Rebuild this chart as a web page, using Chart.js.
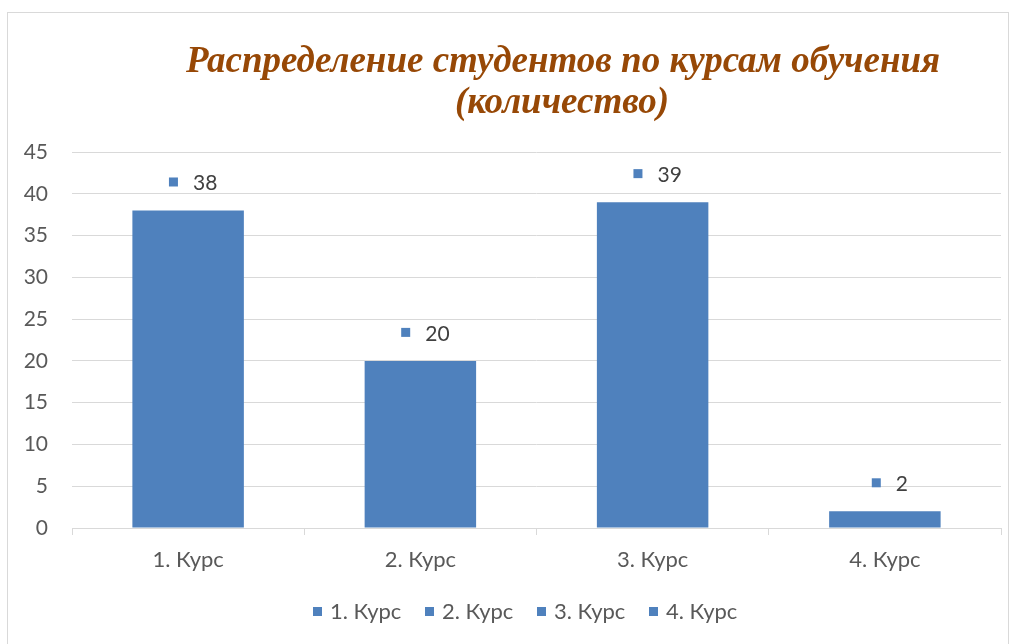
<!DOCTYPE html>
<html>
<head>
<meta charset="utf-8">
<script src="https://cdn.jsdelivr.net/npm/chart.js@4/dist/chart.umd.min.js"></script>
<style>
  html, body { margin: 0; padding: 0; background: #fff; }
  #wrap { width: 1018px; height: 644px; position: relative; }
</style>
</head>
<body>
<div id="wrap"><canvas id="chart" width="1018" height="644"></canvas></div>
<script>
// data
const categories = ['1. Курс', '2. Курс', '3. Курс', '4. Курс'];
const students = [38, 20, 39, 2];
const yMax = 45;
const yStep = 5;
const titleLines = ['Распределение студентов по курсам обучения', '(количество)'];

const barColor = '#4F81BD';
const gridColor = '#d9d9d9';
const textColor = '#595959';

// frame + title, drawn by hand so the title can sit off-centre like the original
const frameAndTitle = {
    id: 'frameAndTitle',
    beforeDraw(chart) {
        const c = chart.ctx;
        c.save();
        c.strokeStyle = gridColor;
        c.lineWidth = 1;
        c.strokeRect(7.5, 12.5, 1001, 700);
        c.restore();
    },
    afterDraw(chart) {
        const c = chart.ctx;
        c.save();
        c.fillStyle = '#974806';
        c.font = 'bold italic 37px "Liberation Serif"';
        c.textAlign = 'center';
        c.textBaseline = 'alphabetic';
        c.fillText(titleLines[0], 563, 72);
        c.fillText(titleLines[1], 562, 113);
        c.restore();
    }
};

// value labels with the little square marker in front
const valueLabels = {
    id: 'valueLabels',
    afterDatasetsDraw(chart) {
        const c = chart.ctx;
        const meta = chart.getDatasetMeta(0);
        c.save();
        c.font = '21px Lato';
        c.textBaseline = 'middle';
        c.textAlign = 'left';
        meta.data.forEach((bar, i) => {
            const txt = String(students[i]);
            const w = c.measureText(txt).width;
            const group = 9 + 15 + w;
            const x0 = bar.x - group / 2 + 5;
            const yc = bar.y - 27;
            c.fillStyle = barColor;
            c.fillRect(x0, yc - 6, 9, 9);
            c.fillStyle = '#404040';
            c.fillText(txt, x0 + 24, yc);
        });
        c.restore();
    }
};

// legend along the bottom, one entry per category (Excel "vary colours by point" style)
const bottomLegend = {
    id: 'bottomLegend',
    afterDraw(chart) {
        const c = chart.ctx;
        c.save();
        c.font = '22px Lato';
        c.textBaseline = 'middle';
        c.textAlign = 'left';
        let x = 313;
        const y = 612;
        categories.forEach((name) => {
            c.fillStyle = barColor;
            c.fillRect(x, y - 5, 9, 9);
            c.fillStyle = textColor;
            c.fillText(name, x + 17, y);
            x += 112;
        });
        c.restore();
    }
};

const chart = new Chart(document.getElementById('chart'), {
    type: 'bar',
    data: {
        labels: categories,
        datasets: [{
            label: 'Количество',
            data: students,
            backgroundColor: barColor,
            borderWidth: 0,
            barPercentage: 0.48,
            categoryPercentage: 1
        }]
    },
    options: {
        responsive: false,
        animation: false,
        layout: {
            padding: { top: 152, left: 0, right: 17, bottom: 54 }
        },
        scales: {
            x: {
                grid: {
                    drawOnChartArea: false,
                    color: gridColor,
                    tickLength: 7,
                    offset: true
                },
                border: { color: gridColor },
                ticks: {
                    color: textColor,
                    font: { family: 'Lato', size: 22 },
                    padding: 12
                },
                afterFit(scale) { scale.height = 62; }
            },
            y: {
                min: 0,
                max: yMax,
                grid: { color: gridColor, drawTicks: false },
                border: { display: false },
                ticks: {
                    stepSize: yStep,
                    color: textColor,
                    font: { family: 'Lato', size: 21 },
                    padding: 24
                },
                afterFit(scale) { scale.width = 72; }
            }
        },
        plugins: {
            title: { display: false },
            tooltip: { enabled: false },
            legend: { display: false }
        }
    },
    plugins: [frameAndTitle, valueLabels, bottomLegend]
});
</script>
</body>
</html>
